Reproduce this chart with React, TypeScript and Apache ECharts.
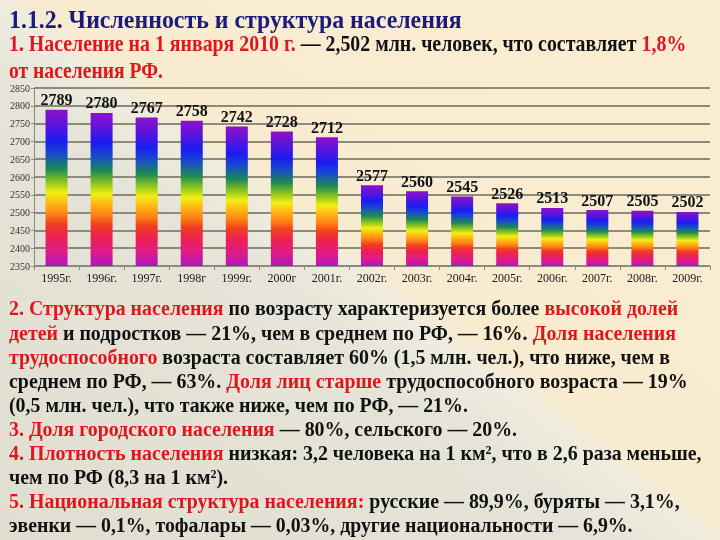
import React, { useEffect, useRef } from "react";
import * as echarts from "echarts";

const years = ["1995г.", "1996г.", "1997г.", "1998г", "1999г.", "2000г", "2001г.", "2002г.", "2003г.", "2004г.", "2005г.", "2006г.", "2007г.", "2008г.", "2009г."];
const population = [2789, 2780, 2767, 2758, 2742, 2728, 2712, 2577, 2560, 2545, 2526, 2513, 2507, 2505, 2502];
const yMin = 2350;
const yMax = 2850;
const yStep = 50;

const RED = "#e0161c";
const BLACK = "#111111";
const NAVY = "#1b1b7e";
const SERIF = '"Liberation Serif", "Times New Roman", serif';

type Seg = [string, string];
// [segments, centre y, right edge, font size]
const textLines: [Seg[], number, number, number][] = [
  [[[NAVY, "1.1.2. Численность и структура населения"]], 19, 462, 26],
  [[[RED, "1. Население на 1 января 2010 г."], [BLACK, " — 2,502 млн. человек, что составляет "], [RED, "1,8%"]], 44, 686, 23],
  [[[RED, "от населения РФ."]], 70, 163, 23],
  [[[RED, "2. Структура населения"], [BLACK, " по возрасту характеризуется более "], [RED, "высокой долей"]], 308, 678, 22],
  [[[RED, "детей"], [BLACK, " и подростков — 21%, чем в среднем по РФ, — 16%. "], [RED, "Доля населения"]], 333, 676, 22],
  [[[RED, "трудоспособного"], [BLACK, " возраста составляет 60% (1,5 млн. чел.), что ниже, чем в"]], 357, 670, 22],
  [[[BLACK, "среднем по РФ, — 63%. "], [RED, "Доля лиц старше"], [BLACK, " трудоспособного возраста — 19%"]], 381, 688, 22],
  [[[BLACK, "(0,5 млн. чел.), что также ниже, чем по РФ, — 21%."]], 405, 468, 22],
  [[[RED, "3. Доля городского населения"], [BLACK, " — 80%, сельского — 20%."]], 429, 517, 22],
  [[[RED, "4. Плотность населения"], [BLACK, " низкая: 3,2 человека на 1 км², что в 2,6 раза меньше,"]], 453, 702, 22],
  [[[BLACK, "чем по РФ (8,3 на 1 км²)."]], 477, 228, 22],
  [[[RED, "5. Национальная структура населения:"], [BLACK, " русские — 89,9%, буряты — 3,1%,"]], 501, 680, 22],
  [[[BLACK, "эвенки — 0,1%, тофалары — 0,03%, другие национальности — 6,9%."]], 525, 633, 22],
];

function measure(text: string, size: number): number {
  const c = document.createElement("canvas").getContext("2d");
  if (!c) return text.length * size * 0.5;
  c.font = `bold ${size}px "Liberation Serif"`;
  return c.measureText(text).width;
}

function buildTextGraphics() {
  const left = 9;
  return textLines.map(([segs, y, right, size]) => {
    const plain = segs.map((s) => s[1]).join("");
    const sx = (right - left) / measure(plain, size);
    const rich: Record<string, any> = {};
    let txt = "";
    segs.forEach((s, j) => {
      const key = "s" + j;
      rich[key] = { fill: s[0], fontSize: size, fontFamily: SERIF, fontWeight: "bold" };
      txt += `{${key}|${s[1]}}`;
    });
    return {
      type: "text",
      x: left,
      y,
      scaleX: sx,
      z: 10,
      style: {
        text: txt,
        rich,
        fontSize: size,
        fontFamily: SERIF,
        fontWeight: "bold",
        fill: BLACK,
        verticalAlign: "middle",
        align: "left",
      },
    };
  });
}

export default function App() {
  const ref = useRef<HTMLDivElement>(null);
  useEffect(() => {
    if (!ref.current) return;
    const chart = echarts.init(ref.current, null, { renderer: "svg" });
    const barGradient = new echarts.graphic.LinearGradient(0, 0, 0, 1, [
      { offset: 0, color: "#8e12c8" },
      { offset: 0.1, color: "#5a14dc" },
      { offset: 0.2, color: "#1a1cf0" },
      { offset: 0.28, color: "#1a48d0" },
      { offset: 0.38, color: "#1c8a52" },
      { offset: 0.46, color: "#8cc420" },
      { offset: 0.53, color: "#f0f014" },
      { offset: 0.6, color: "#ffb414" },
      { offset: 0.67, color: "#ff8014" },
      { offset: 0.73, color: "#f0401e" },
      { offset: 0.81, color: "#ee2050" },
      { offset: 0.9, color: "#e01c84" },
      { offset: 1, color: "#b016bc" },
    ]);
    const bg = new echarts.graphic.LinearGradient(-257, 343, 267, -344, [
      { offset: 0, color: "#e0ded0" },
      { offset: 0.42, color: "#e6e4d8" },
      { offset: 0.49, color: "#eeebdf" },
      { offset: 0.52, color: "#f8ebd0" },
      { offset: 1, color: "#faedd2" },
    ], true);
    chart.setOption({
      animation: false,
      graphic: [
        { type: "rect", z: -100, silent: true, shape: { x: 0, y: 0, width: 720, height: 540 }, style: { fill: bg } },
        ...buildTextGraphics(),
      ],
      grid: { left: 34, right: 10, top: 88, bottom: 274, containLabel: false },
      xAxis: {
        type: "category",
        data: years,
        boundaryGap: true,
        axisLine: { show: true, lineStyle: { color: "#8a8a80", width: 1 } },
        axisTick: { show: true, length: 4, lineStyle: { color: "#8a8a80" } },
        axisLabel: { color: "#1a1a1a", fontFamily: SERIF, fontSize: 12, margin: 6, interval: 0 },
      },
      yAxis: {
        type: "value",
        min: yMin,
        max: yMax,
        interval: yStep,
        axisLine: { show: true, lineStyle: { color: "#8a8a80", width: 1 } },
        axisTick: { show: true, length: 3, lineStyle: { color: "#8a8a80" } },
        axisLabel: { color: "#333", fontFamily: SERIF, fontSize: 10, margin: 4, formatter: (v: number) => String(v) },
        splitLine: { show: true, lineStyle: { color: "#8c8a7a", width: 2 } },
      },
      series: [
        {
          type: "bar",
          data: population,
          barWidth: 22,
          itemStyle: { color: barGradient },
          label: {
            show: true,
            position: "top",
            distance: 2,
            color: "#111",
            fontFamily: SERIF,
            fontWeight: "bold",
            fontSize: 16,
          },
        },
      ],
    });
    return () => chart.dispose();
  }, []);
  return <div ref={ref} style={{ position: "fixed", left: 0, top: 0, width: 720, height: 540 }} />;
}
